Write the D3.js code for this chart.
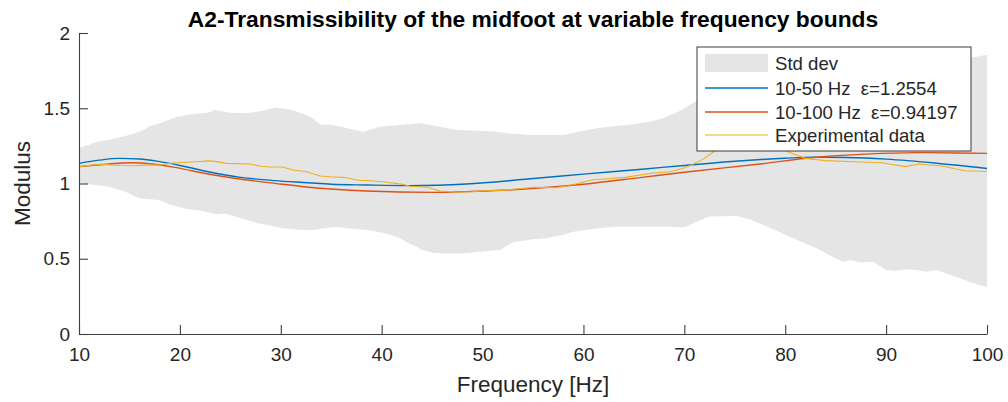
<!DOCTYPE html>
<html>
<head>
<meta charset="utf-8">
<script src="https://cdn.jsdelivr.net/npm/d3@7"></script>
<style>
  html, body { margin: 0; padding: 0; background: #fff; }
  svg { display: block; font-family: "Liberation Sans", Arial, Helvetica, sans-serif; }
  text { white-space: pre; }
</style>
</head>
<body>
<svg id="chart" width="1008" height="402"></svg>
<script>
// Std-dev envelope of the measured transmissibility (upper / lower bounds)
const bandUpperFreq = [10, 12, 13, 14, 15.4, 16.2, 17, 18, 19.6, 21, 22.8, 23.5, 25, 26.5, 28, 29.5, 31, 32, 33, 34, 35, 36, 37, 38.2, 39.8, 42, 43.8, 45.5, 47.4, 49.5, 51.4, 53, 54.7, 58, 60, 61.3, 63, 64.6, 66.5, 67.9, 69.5, 70.7, 72, 75, 80, 85, 90, 95, 98.8, 100];
const bandUpper = [1.236, 1.28, 1.29, 1.305, 1.33, 1.35, 1.38, 1.40, 1.44, 1.46, 1.47, 1.49, 1.47, 1.466, 1.48, 1.505, 1.49, 1.466, 1.44, 1.39, 1.39, 1.377, 1.36, 1.344, 1.377, 1.39, 1.40, 1.38, 1.355, 1.35, 1.344, 1.33, 1.322, 1.322, 1.35, 1.367, 1.38, 1.39, 1.41, 1.433, 1.48, 1.53, 1.57, 1.61, 1.67, 1.72, 1.77, 1.81, 1.84, 1.855];

const bandLowerFreq = [10, 11, 13, 14.6, 16, 17.9, 19, 20.7, 22, 23.6, 24.5, 26, 27.8, 29, 30.2, 31.5, 33, 34.5, 35.5, 37, 38.8, 40, 41.5, 42.5, 44, 45.1, 46.5, 48.4, 49.7, 51.7, 53, 55, 56.3, 58, 59, 61, 63, 66, 68.6, 70, 71, 72.5, 75.2, 76.5, 77.5, 79, 80.8, 83.1, 84.5, 85.7, 86.5, 87.5, 88.7, 90, 91, 92, 93, 94, 95, 96, 97.3, 98.5, 100];
const bandLower = [1.005, 0.995, 0.979, 0.946, 0.90, 0.89, 0.86, 0.83, 0.82, 0.795, 0.80, 0.77, 0.735, 0.72, 0.702, 0.695, 0.69, 0.705, 0.713, 0.70, 0.69, 0.675, 0.647, 0.61, 0.56, 0.54, 0.535, 0.536, 0.547, 0.558, 0.61, 0.63, 0.636, 0.66, 0.68, 0.70, 0.713, 0.713, 0.713, 0.709, 0.74, 0.78, 0.784, 0.76, 0.735, 0.69, 0.636, 0.569, 0.52, 0.48, 0.49, 0.475, 0.48, 0.425, 0.42, 0.43, 0.425, 0.414, 0.425, 0.40, 0.37, 0.34, 0.31];

// Model fitted on 10-50 Hz
const fit50Freq = [10, 12, 14, 16, 18, 20, 22.8, 26, 29.4, 32.7, 35, 38.5, 42.8, 48.4, 54.2, 60, 65.8, 70, 75, 80, 83, 86, 90, 95, 100];
const fit50 = [1.134, 1.155, 1.167, 1.163, 1.145, 1.12, 1.078, 1.041, 1.019, 1.005, 0.995, 0.99, 0.986, 0.997, 1.028, 1.062, 1.095, 1.12, 1.148, 1.168, 1.175, 1.173, 1.162, 1.135, 1.10];

// Model fitted on 10-100 Hz
const fit100Freq = [10, 13, 15, 16.2, 19.5, 22.8, 26.1, 29.4, 32.5, 38.5, 45, 48.4, 52, 55.2, 60, 65.8, 70, 77.5, 83, 88, 93, 97, 100];
const fit100 = [1.112, 1.13, 1.138, 1.136, 1.107, 1.063, 1.028, 1.001, 0.977, 0.950, 0.941, 0.946, 0.955, 0.968, 0.995, 1.041, 1.075, 1.13, 1.174, 1.195, 1.205, 1.203, 1.20];

// Mean measured transmissibility
const expFreq = [10, 11, 12.1, 13, 14, 15.4, 16.5, 18, 19.3, 20.7, 22, 22.8, 23.5, 24.6, 25.5, 26.9, 28, 29, 30.2, 31.2, 32.6, 33.9, 34.9, 36.2, 37.8, 38.5, 40.1, 42.1, 42.8, 44.5, 45.8, 47.4, 49, 50.1, 52, 55.2, 57.2, 58.5, 60.8, 62, 64.1, 66.8, 68.7, 69.8, 70.7, 72, 73, 74.5, 76, 77.5, 79, 80.3, 82, 84, 86.9, 89.6, 91.9, 93.2, 95.5, 97.8, 100];
const expData = [1.112, 1.12, 1.128, 1.125, 1.12, 1.118, 1.122, 1.123, 1.136, 1.141, 1.146, 1.15, 1.147, 1.134, 1.132, 1.13, 1.115, 1.11, 1.11, 1.09, 1.078, 1.05, 1.045, 1.041, 1.02, 1.02, 1.012, 0.994, 0.982, 0.975, 0.95, 0.944, 0.945, 0.952, 0.955, 0.975, 0.972, 0.985, 1.023, 1.03, 1.041, 1.068, 1.08, 1.10, 1.123, 1.167, 1.216, 1.26, 1.29, 1.29, 1.25, 1.21, 1.167, 1.152, 1.145, 1.138, 1.112, 1.13, 1.116, 1.085, 1.08];

const xTicks = [10, 20, 30, 40, 50, 60, 70, 80, 90, 100];
const yTicks = [0, 0.5, 1, 1.5, 2];
const legendLabels = ["Std dev", "10-50 Hz  \u03b5=1.2554", "10-100 Hz  \u03b5=0.94197", "Experimental data"];

const colors = { band: "#e5e5e5", fit50: "#0072BD", fit100: "#D95319", exp: "#EDB120", axis: "#404040", text: "#262626" };

const svg = d3.select("#chart");
const margin = { left: 79, right: 21, top: 33, bottom: 68 };
const W = 1008, H = 402;

const x = d3.scaleLinear().domain([10, 100]).range([margin.left, W - margin.right]);
const y = d3.scaleLinear().domain([0, 2]).range([H - margin.bottom, margin.top]);

// envelope polygon: upper edge left-to-right, lower edge right-to-left
const bandPts = bandUpperFreq.map((f, i) => [x(f), y(bandUpper[i])])
  .concat(bandLowerFreq.map((f, i) => [x(f), y(bandLower[i])]).reverse());
svg.append("path")
  .attr("d", d3.line()(bandPts) + "Z")
  .attr("fill", colors.band)
  .attr("stroke", "none");

const smooth = d3.line().x(d => x(d[0])).y(d => y(d[1])).curve(d3.curveMonotoneX);
const straight = d3.line().x(d => x(d[0])).y(d => y(d[1]));

svg.append("path")
  .attr("d", smooth(fit50Freq.map((f, i) => [f, fit50[i]])))
  .attr("fill", "none").attr("stroke", colors.fit50).attr("stroke-width", 1.4);
svg.append("path")
  .attr("d", smooth(fit100Freq.map((f, i) => [f, fit100[i]])))
  .attr("fill", "none").attr("stroke", colors.fit100).attr("stroke-width", 1.4);
svg.append("path")
  .attr("d", straight(expFreq.map((f, i) => [f, expData[i]])))
  .attr("fill", "none").attr("stroke", colors.exp).attr("stroke-width", 1.1);

// axes with inward ticks
const xAxis = d3.axisBottom(x).tickValues(xTicks).tickSizeInner(-9).tickSizeOuter(0).tickPadding(14).tickFormat(d3.format("d"));
const yAxis = d3.axisLeft(y).tickValues(yTicks).tickSizeInner(-9).tickSizeOuter(0).tickPadding(9).tickFormat(d => String(d));

const gx = svg.append("g").attr("transform", `translate(0,${y(0)})`).call(xAxis);
const gy = svg.append("g").attr("transform", `translate(${x(10)},0)`).call(yAxis);
[gx, gy].forEach(g => {
  g.select(".domain").attr("stroke", colors.axis).attr("stroke-width", 1.1);
  g.selectAll(".tick line").attr("stroke", colors.axis).attr("stroke-width", 1.1);
  g.selectAll(".tick text").attr("fill", colors.text).style("font-size", "19px").attr("font-family", null);
});

// title and axis labels
svg.append("text")
  .attr("x", (x(10) + x(100)) / 2).attr("y", 27)
  .attr("text-anchor", "middle")
  .style("font-size", "22.8px").style("font-weight", "bold")
  .attr("fill", "#000")
  .text("A2-Transmissibility of the midfoot at variable frequency bounds");

svg.append("text")
  .attr("x", (x(10) + x(100)) / 2).attr("y", 392)
  .attr("text-anchor", "middle")
  .style("font-size", "22.5px").attr("fill", colors.text)
  .text("Frequency [Hz]");

svg.append("text")
  .attr("transform", `translate(29.5,${(y(0) + y(2)) / 2}) rotate(-90)`)
  .attr("text-anchor", "middle")
  .style("font-size", "22.5px").attr("fill", colors.text)
  .text("Modulus");

// legend
const lg = svg.append("g").attr("transform", "translate(697,47)");
lg.append("rect").attr("width", 274).attr("height", 104)
  .attr("fill", "#fff").attr("stroke", colors.text).attr("stroke-width", 0.9);
const rowY = [16, 41, 65, 88];
const swatch = [colors.band, colors.fit50, colors.fit100, colors.exp];
legendLabels.forEach((lab, i) => {
  if (i === 0) {
    lg.append("rect").attr("x", 8).attr("y", rowY[i] - 9).attr("width", 63).attr("height", 18).attr("fill", swatch[i]);
  } else {
    lg.append("line").attr("x1", 8).attr("x2", 71).attr("y1", rowY[i]).attr("y2", rowY[i])
      .attr("stroke", swatch[i]).attr("stroke-width", i === 3 ? 1.1 : 1.4);
  }
  lg.append("text").attr("x", 78).attr("y", rowY[i]).attr("dy", "0.36em")
    .style("font-size", "18.6px").attr("fill", colors.text).text(lab);
});
</script>
</body>
</html>
